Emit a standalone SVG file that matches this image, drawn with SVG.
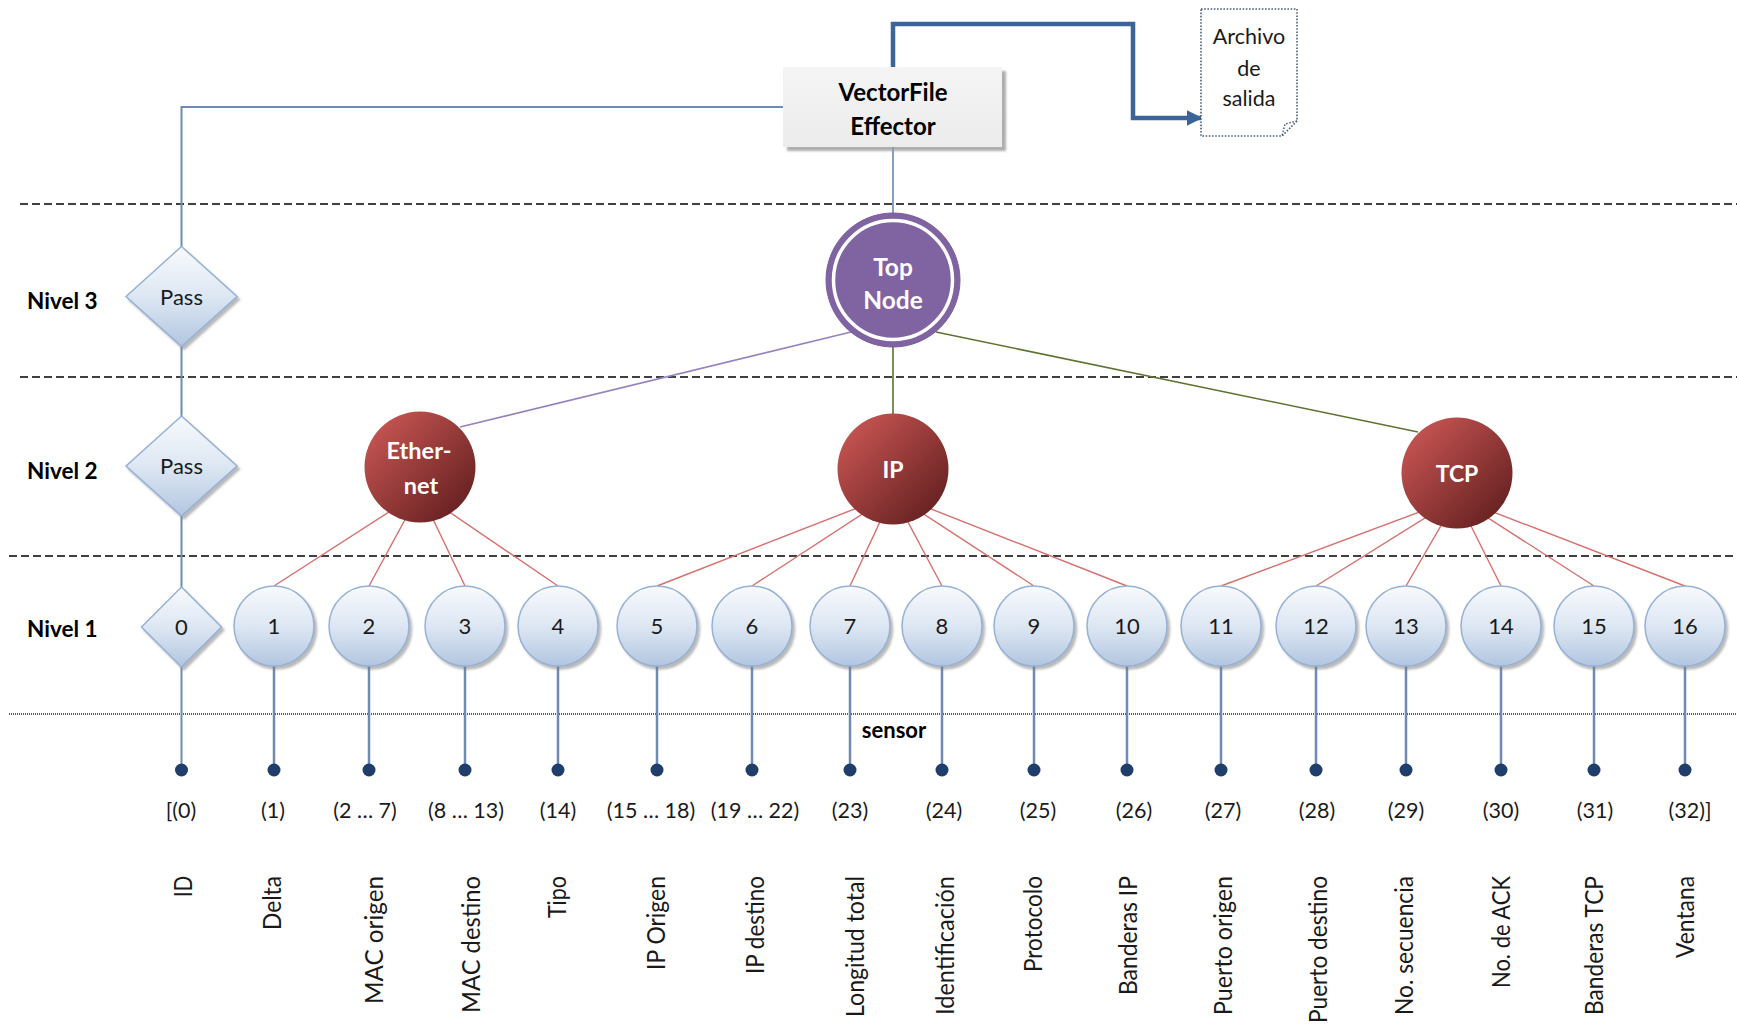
<svg xmlns="http://www.w3.org/2000/svg" width="1737" height="1026" viewBox="0 0 1737 1026">
  <defs>
    <linearGradient id="leafFill" x1="0" y1="0" x2="0" y2="1">
      <stop offset="0" stop-color="#f8fafd"/>
      <stop offset="0.5" stop-color="#dde7f3"/>
      <stop offset="1" stop-color="#b2c6e0"/>
    </linearGradient>
    <linearGradient id="redFill" x1="0.1" y1="0.1" x2="0.9" y2="0.9">
      <stop offset="0" stop-color="#c65553"/>
      <stop offset="1" stop-color="#652020"/>
    </linearGradient>
    <linearGradient id="boxFill" x1="0" y1="0" x2="0" y2="1">
      <stop offset="0" stop-color="#f4f4f4"/>
      <stop offset="1" stop-color="#ececec"/>
    </linearGradient>
    <filter id="shadow" x="-20%" y="-20%" width="150%" height="150%">
      <feDropShadow dx="2.5" dy="3" stdDeviation="1.2" flood-color="#7f7f7f" flood-opacity="0.55"/>
    </filter>
    <filter id="boxShadow" x="-10%" y="-10%" width="130%" height="140%">
      <feDropShadow dx="4" dy="4" stdDeviation="1" flood-color="#9a9a9a" flood-opacity="0.8"/>
    </filter>
    <marker id="arrowBlue" viewBox="0 0 10 10" refX="9" refY="5" markerWidth="16" markerHeight="18" markerUnits="userSpaceOnUse" orient="auto">
      <path d="M0,0 L10,5 L0,10 Z" fill="#3a649a"/>
    </marker>
  </defs>
  <style>
    text { font-family: Lato, "Liberation Sans", sans-serif; }
    .lvl { font-size: 22.5px; font-weight: 700; fill: #000; }
    .num { font-size: 22px; fill: #1a1a1a; text-anchor: middle; }
    .idx { font-size: 21.5px; fill: #1a1a1a; text-anchor: middle; }
    .fld { font-size: 25px; fill: #1a1a1a; text-anchor: end; }
    .wht { fill: #fff; font-weight: 700; text-anchor: middle; }
    .leaf { fill: url(#leafFill); stroke: #95b1d6; stroke-width: 1.5; filter: url(#shadow); }
    .red { fill: url(#redFill); }
    .dash { stroke: #404040; stroke-width: 2; stroke-dasharray: 8 4; fill: none; }
    .tree { stroke: #d5706d; stroke-width: 1.4; fill: none; }
    .stem { stroke: #6d8bb5; stroke-width: 2.5; fill: none; }
    .dot { fill: #1f3e6c; }
  </style>

  <rect width="1737" height="1026" fill="#fff"/>

  <!-- level separators -->
  <g id="separators">
    <line class="dash" x1="20" y1="204" x2="1737" y2="204"/>
    <line class="dash" x1="20" y1="377" x2="1737" y2="377"/>
    <line class="dash" x1="9" y1="556" x2="1737" y2="556"/>
    <line x1="9" y1="714" x2="1737" y2="714" stroke="#5a5a5a" stroke-width="2" stroke-dasharray="1 1"/>
  </g>

  <!-- level labels -->
  <g id="levels">
    <text class="lvl" x="27" y="309">Nivel 3</text>
    <text class="lvl" x="27" y="479">Nivel 2</text>
    <text class="lvl" x="27" y="637">Nivel 1</text>
    <text x="894" y="738" font-size="22" font-weight="700" text-anchor="middle" fill="#000">sensor</text>
  </g>

  <!-- connectors -->
  <g id="connectors">
    <!-- pass-through column -->
    <polyline points="783,107 181.5,107 181.5,770" fill="none" stroke="#6d8bb5" stroke-width="2"/>
    <!-- effector to top node -->
    <line x1="893" y1="147" x2="893" y2="213" stroke="#5b80b2" stroke-width="1.5"/>
    <!-- effector output to file -->
    <polyline points="893,67 893,24 1133,24 1133,118 1201,118" fill="none" stroke="#3a649a" stroke-width="4.5" marker-end="url(#arrowBlue)"/>
    <path d="M1201,105 L1217,118 L1201,131 Z" fill="#111"/>
    <!-- top node to level 2 -->
    <line x1="851" y1="332" x2="460" y2="427" stroke="#9683bd" stroke-width="1.6"/>
    <line x1="893" y1="340" x2="893" y2="420" stroke="#5d7330" stroke-width="1.6"/>
    <line x1="936" y1="332" x2="1418" y2="432" stroke="#5d7330" stroke-width="1.6"/>
    <!-- Ethernet children -->
    <line class="tree" x1="420" y1="492" x2="274" y2="586"/>
    <line class="tree" x1="420" y1="492" x2="369" y2="586"/>
    <line class="tree" x1="420" y1="492" x2="465" y2="586"/>
    <line class="tree" x1="420" y1="492" x2="558" y2="586"/>
    <!-- IP children -->
    <line class="tree" x1="893" y1="494" x2="657" y2="586"/>
    <line class="tree" x1="893" y1="494" x2="752" y2="586"/>
    <line class="tree" x1="893" y1="494" x2="850" y2="586"/>
    <line class="tree" x1="893" y1="494" x2="942" y2="586"/>
    <line class="tree" x1="893" y1="494" x2="1034" y2="586"/>
    <line class="tree" x1="893" y1="494" x2="1127" y2="586"/>
    <!-- TCP children -->
    <line class="tree" x1="1457" y1="498" x2="1221" y2="586"/>
    <line class="tree" x1="1457" y1="498" x2="1316" y2="586"/>
    <line class="tree" x1="1457" y1="498" x2="1406" y2="586"/>
    <line class="tree" x1="1457" y1="498" x2="1501" y2="586"/>
    <line class="tree" x1="1457" y1="498" x2="1594" y2="586"/>
    <line class="tree" x1="1457" y1="498" x2="1685" y2="586"/>
    <!-- sensor stems -->
    <g class="stem">
      <line x1="274" y1="660" x2="274" y2="770"/>
      <line x1="369" y1="660" x2="369" y2="770"/>
      <line x1="465" y1="660" x2="465" y2="770"/>
      <line x1="558" y1="660" x2="558" y2="770"/>
      <line x1="657" y1="660" x2="657" y2="770"/>
      <line x1="752" y1="660" x2="752" y2="770"/>
      <line x1="850" y1="660" x2="850" y2="770"/>
      <line x1="942" y1="660" x2="942" y2="770"/>
      <line x1="1034" y1="660" x2="1034" y2="770"/>
      <line x1="1127" y1="660" x2="1127" y2="770"/>
      <line x1="1221" y1="660" x2="1221" y2="770"/>
      <line x1="1316" y1="660" x2="1316" y2="770"/>
      <line x1="1406" y1="660" x2="1406" y2="770"/>
      <line x1="1501" y1="660" x2="1501" y2="770"/>
      <line x1="1594" y1="660" x2="1594" y2="770"/>
      <line x1="1685" y1="660" x2="1685" y2="770"/>
    </g>
    <g class="dot">
      <circle cx="181.5" cy="770" r="6.5"/>
      <circle cx="274" cy="770" r="6.5"/>
      <circle cx="369" cy="770" r="6.5"/>
      <circle cx="465" cy="770" r="6.5"/>
      <circle cx="558" cy="770" r="6.5"/>
      <circle cx="657" cy="770" r="6.5"/>
      <circle cx="752" cy="770" r="6.5"/>
      <circle cx="850" cy="770" r="6.5"/>
      <circle cx="942" cy="770" r="6.5"/>
      <circle cx="1034" cy="770" r="6.5"/>
      <circle cx="1127" cy="770" r="6.5"/>
      <circle cx="1221" cy="770" r="6.5"/>
      <circle cx="1316" cy="770" r="6.5"/>
      <circle cx="1406" cy="770" r="6.5"/>
      <circle cx="1501" cy="770" r="6.5"/>
      <circle cx="1594" cy="770" r="6.5"/>
      <circle cx="1685" cy="770" r="6.5"/>
    </g>
  </g>

  <!-- effector and output file -->
  <g id="effector">
    <rect x="783" y="67" width="219" height="80" fill="url(#boxFill)" filter="url(#boxShadow)"/>
    <text x="893" y="101" font-size="24" font-weight="700" text-anchor="middle" fill="#000">VectorFile</text>
    <text x="893" y="135" font-size="24" font-weight="700" text-anchor="middle" fill="#000">Effector</text>
  </g>
  <g id="archivo">
    <path d="M1201,9 H1297 V121 L1282,136 H1201 Z" fill="#fff" stroke="#4b5d7c" stroke-width="1.6" stroke-dasharray="1.6 1.6"/>
    <path d="M1297,121 L1285,124 L1282,136" fill="none" stroke="#4b5d7c" stroke-width="1.4" stroke-dasharray="1.6 1.6"/>
    <text x="1249" y="44" font-size="21.5" text-anchor="middle" fill="#1a1a1a">Archivo</text>
    <text x="1249" y="76" font-size="21.5" text-anchor="middle" fill="#1a1a1a">de</text>
    <text x="1249" y="106" font-size="21.5" text-anchor="middle" fill="#1a1a1a">salida</text>
  </g>

  <!-- level 3 -->
  <g id="topnode">
    <circle cx="893" cy="280" r="67" fill="#8064a2" stroke="#7a5e9c" stroke-width="1"/>
    <circle cx="893" cy="280" r="59.5" fill="none" stroke="#fff" stroke-width="3.5"/>
    <text class="wht" x="893" y="276" font-size="24.5">Top</text>
    <text class="wht" x="893" y="309" font-size="24.5">Node</text>
  </g>
  <g id="pass3">
    <path class="leaf" d="M181.5,246.5 L237,296.5 L181.5,346.5 L126,296.5 Z"/>
    <text class="num" x="181.5" y="304.5">Pass</text>
  </g>

  <!-- level 2 -->
  <g id="pass2">
    <path class="leaf" d="M181.5,416 L237,466 L181.5,516 L126,466 Z"/>
    <text class="num" x="181.5" y="474">Pass</text>
  </g>
  <g id="ethernet">
    <circle class="red" cx="420" cy="467" r="55.5"/>
    <text class="wht" x="419" y="459" font-size="23.5">Ether-</text>
    <text class="wht" x="421" y="494" font-size="23.5">net</text>
  </g>
  <g id="ip">
    <circle class="red" cx="893" cy="469" r="55.5"/>
    <text class="wht" x="893" y="478" font-size="23">IP</text>
  </g>
  <g id="tcp">
    <circle class="red" cx="1457" cy="473" r="55.5"/>
    <text class="wht" x="1457" y="482" font-size="23">TCP</text>
  </g>

  <!-- level 1 -->
  <g id="n0">
    <path class="leaf" d="M181.5,587 L221.5,627 L181.5,667 L141.5,627 Z"/>
    <text class="num" x="181.5" y="635">0</text>
  </g>
  <g id="n1"><circle class="leaf" cx="274" cy="626" r="40"/><text class="num" x="274" y="634">1</text></g>
  <g id="n2"><circle class="leaf" cx="369" cy="626" r="40"/><text class="num" x="369" y="634">2</text></g>
  <g id="n3"><circle class="leaf" cx="465" cy="626" r="40"/><text class="num" x="465" y="634">3</text></g>
  <g id="n4"><circle class="leaf" cx="558" cy="626" r="40"/><text class="num" x="558" y="634">4</text></g>
  <g id="n5"><circle class="leaf" cx="657" cy="626" r="40"/><text class="num" x="657" y="634">5</text></g>
  <g id="n6"><circle class="leaf" cx="752" cy="626" r="40"/><text class="num" x="752" y="634">6</text></g>
  <g id="n7"><circle class="leaf" cx="850" cy="626" r="40"/><text class="num" x="850" y="634">7</text></g>
  <g id="n8"><circle class="leaf" cx="942" cy="626" r="40"/><text class="num" x="942" y="634">8</text></g>
  <g id="n9"><circle class="leaf" cx="1034" cy="626" r="40"/><text class="num" x="1034" y="634">9</text></g>
  <g id="n10"><circle class="leaf" cx="1127" cy="626" r="40"/><text class="num" x="1127" y="634">10</text></g>
  <g id="n11"><circle class="leaf" cx="1221" cy="626" r="40"/><text class="num" x="1221" y="634">11</text></g>
  <g id="n12"><circle class="leaf" cx="1316" cy="626" r="40"/><text class="num" x="1316" y="634">12</text></g>
  <g id="n13"><circle class="leaf" cx="1406" cy="626" r="40"/><text class="num" x="1406" y="634">13</text></g>
  <g id="n14"><circle class="leaf" cx="1501" cy="626" r="40"/><text class="num" x="1501" y="634">14</text></g>
  <g id="n15"><circle class="leaf" cx="1594" cy="626" r="40"/><text class="num" x="1594" y="634">15</text></g>
  <g id="n16"><circle class="leaf" cx="1685" cy="626" r="40"/><text class="num" x="1685" y="634">16</text></g>

  <!-- vector positions -->
  <g id="indices">
    <text class="idx" x="181" y="818">[(0)</text>
    <text class="idx" x="273" y="818">(1)</text>
    <text class="idx" x="365" y="818">(2 … 7)</text>
    <text class="idx" x="466" y="818">(8 … 13)</text>
    <text class="idx" x="558" y="818">(14)</text>
    <text class="idx" x="651" y="818">(15 … 18)</text>
    <text class="idx" x="755" y="818">(19 … 22)</text>
    <text class="idx" x="850" y="818">(23)</text>
    <text class="idx" x="944" y="818">(24)</text>
    <text class="idx" x="1038" y="818">(25)</text>
    <text class="idx" x="1134" y="818">(26)</text>
    <text class="idx" x="1223" y="818">(27)</text>
    <text class="idx" x="1317" y="818">(28)</text>
    <text class="idx" x="1406" y="818">(29)</text>
    <text class="idx" x="1501" y="818">(30)</text>
    <text class="idx" x="1595" y="818">(31)</text>
    <text class="idx" x="1690" y="818">(32)]</text>
  </g>

  <!-- field names -->
  <g id="fields">
    <text class="fld" transform="translate(192,876) rotate(-90)" textLength="21" lengthAdjust="spacingAndGlyphs">ID</text>
    <text class="fld" transform="translate(281,876) rotate(-90)" textLength="54" lengthAdjust="spacingAndGlyphs">Delta</text>
    <text class="fld" transform="translate(383,876) rotate(-90)" textLength="128" lengthAdjust="spacingAndGlyphs">MAC origen</text>
    <text class="fld" transform="translate(480,876) rotate(-90)" textLength="137" lengthAdjust="spacingAndGlyphs">MAC destino</text>
    <text class="fld" transform="translate(566,876) rotate(-90)" textLength="42" lengthAdjust="spacingAndGlyphs">Tipo</text>
    <text class="fld" transform="translate(665,876) rotate(-90)" textLength="94" lengthAdjust="spacingAndGlyphs">IP Origen</text>
    <text class="fld" transform="translate(764,876) rotate(-90)" textLength="98" lengthAdjust="spacingAndGlyphs">IP destino</text>
    <text class="fld" transform="translate(864,876) rotate(-90)" textLength="141" lengthAdjust="spacingAndGlyphs">Longitud total</text>
    <text class="fld" transform="translate(954,876) rotate(-90)" textLength="139" lengthAdjust="spacingAndGlyphs">Identificación</text>
    <text class="fld" transform="translate(1042,876) rotate(-90)" textLength="96" lengthAdjust="spacingAndGlyphs">Protocolo</text>
    <text class="fld" transform="translate(1137,876) rotate(-90)" textLength="119" lengthAdjust="spacingAndGlyphs">Banderas IP</text>
    <text class="fld" transform="translate(1232,876) rotate(-90)" textLength="139" lengthAdjust="spacingAndGlyphs">Puerto origen</text>
    <text class="fld" transform="translate(1327,876) rotate(-90)" textLength="147" lengthAdjust="spacingAndGlyphs">Puerto destino</text>
    <text class="fld" transform="translate(1413,876) rotate(-90)" textLength="139" lengthAdjust="spacingAndGlyphs">No. secuencia</text>
    <text class="fld" transform="translate(1510,876) rotate(-90)" textLength="112" lengthAdjust="spacingAndGlyphs">No. de ACK</text>
    <text class="fld" transform="translate(1603,876) rotate(-90)" textLength="139" lengthAdjust="spacingAndGlyphs">Banderas TCP</text>
    <text class="fld" transform="translate(1694,876) rotate(-90)" textLength="82" lengthAdjust="spacingAndGlyphs">Ventana</text>
  </g>
</svg>
